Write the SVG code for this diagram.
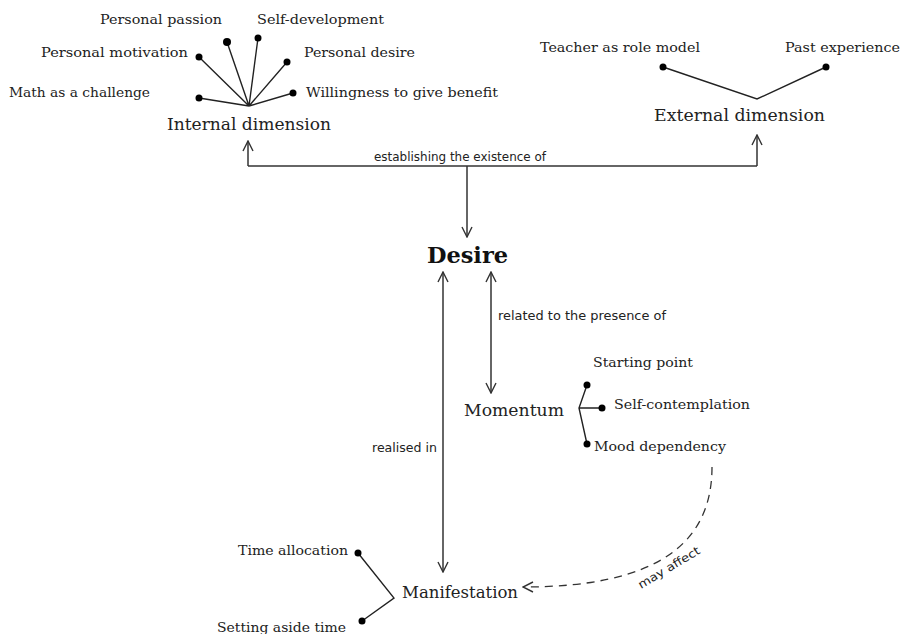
<svg xmlns="http://www.w3.org/2000/svg" width="901" height="634" viewBox="0 0 901 634">
  <style>
    .lbl { font-family: "DejaVu Serif", "Liberation Serif", serif; font-size: 13.5px; fill: #222; }
    .dim { font-family: "DejaVu Serif", "Liberation Serif", serif; font-size: 16.5px; fill: #222; }
    .main { font-family: "DejaVu Serif", "Liberation Serif", serif; font-size: 22px; font-weight: bold; fill: #111; }
    .rel { font-family: "DejaVu Sans", "Liberation Sans", sans-serif; font-size: 11.5px; fill: #222; }
    .branch { stroke: #222; stroke-width: 1.4; fill: none; }
    .dot { fill: #000; }
    .edge { stroke: #333; stroke-width: 1.5; fill: none; }
    .dashed { stroke: #333; stroke-width: 1.3; fill: none; stroke-dasharray: 8 6; }
  </style>
  <defs>
    <marker id="arrow" viewBox="0 0 12 12" refX="11" refY="6" markerWidth="12" markerHeight="12" markerUnits="userSpaceOnUse" orient="auto-start-reverse">
      <path d="M1,1 L11,6 L1,11" fill="none" stroke="#333" stroke-width="1.4"/>
    </marker>
  </defs>
  <rect width="901" height="634" fill="#fff"/>

  <!-- Internal dimension with its six facets -->
  <g id="internal">
    <path class="branch" d="M249,106 L199,98 M249,106 L199,57 M249,106 L227,42 M249,106 L258,38 M249,106 L287,62 M249,106 L293,93"/>
    <circle class="dot" cx="199" cy="98" r="3.5"/>
    <circle class="dot" cx="199" cy="57" r="3.5"/>
    <circle class="dot" cx="227" cy="42" r="4"/>
    <circle class="dot" cx="258" cy="38" r="3.5"/>
    <circle class="dot" cx="287" cy="62" r="3.5"/>
    <circle class="dot" cx="293" cy="93" r="3.5"/>
    <text class="lbl" x="100" y="24" textLength="122" lengthAdjust="spacingAndGlyphs">Personal passion</text>
    <text class="lbl" x="257" y="24" textLength="127" lengthAdjust="spacingAndGlyphs">Self-development</text>
    <text class="lbl" x="41" y="57" textLength="147" lengthAdjust="spacingAndGlyphs">Personal motivation</text>
    <text class="lbl" x="304" y="57" textLength="111" lengthAdjust="spacingAndGlyphs">Personal desire</text>
    <text class="lbl" x="9" y="97" textLength="141" lengthAdjust="spacingAndGlyphs">Math as a challenge</text>
    <text class="lbl" x="306" y="97" textLength="192" lengthAdjust="spacingAndGlyphs">Willingness to give benefit</text>
    <text class="dim" x="167" y="130" textLength="164" lengthAdjust="spacingAndGlyphs">Internal dimension</text>
  </g>

  <!-- External dimension with its two facets -->
  <g id="external">
    <path class="branch" d="M663,67 L757,99 L826,67"/>
    <circle class="dot" cx="663" cy="67" r="3.5"/>
    <circle class="dot" cx="826" cy="67" r="3.5"/>
    <text class="lbl" x="540" y="52" textLength="160" lengthAdjust="spacingAndGlyphs">Teacher as role model</text>
    <text class="lbl" x="785" y="52" textLength="115" lengthAdjust="spacingAndGlyphs">Past experience</text>
    <text class="dim" x="654" y="121" textLength="171" lengthAdjust="spacingAndGlyphs">External dimension</text>
  </g>

  <!-- Central concept -->
  <g id="desire">
    <text class="main" x="427" y="263" textLength="81" lengthAdjust="spacingAndGlyphs">Desire</text>
  </g>

  <!-- Momentum with its three facets -->
  <g id="momentum">
    <text class="dim" x="464" y="416" textLength="100" lengthAdjust="spacingAndGlyphs">Momentum</text>
    <path class="branch" d="M587,385 L579,408 L587,444 M579,408 L602,408"/>
    <circle class="dot" cx="587" cy="385" r="3.5"/>
    <circle class="dot" cx="602" cy="408" r="3.5"/>
    <circle class="dot" cx="587" cy="444" r="3.5"/>
    <text class="lbl" x="593" y="367" textLength="100" lengthAdjust="spacingAndGlyphs">Starting point</text>
    <text class="lbl" x="614" y="409" textLength="136" lengthAdjust="spacingAndGlyphs">Self-contemplation</text>
    <text class="lbl" x="594" y="451" textLength="132" lengthAdjust="spacingAndGlyphs">Mood dependency</text>
  </g>

  <!-- Manifestation with its two facets -->
  <g id="manifestation">
    <text class="dim" x="402" y="598" textLength="116" lengthAdjust="spacingAndGlyphs">Manifestation</text>
    <path class="branch" d="M358,553 L394,598 L362,621"/>
    <circle class="dot" cx="358" cy="553" r="3.5"/>
    <circle class="dot" cx="362" cy="621" r="3.5"/>
    <text class="lbl" x="238" y="555" textLength="110" lengthAdjust="spacingAndGlyphs">Time allocation</text>
    <text class="lbl" x="217" y="632" textLength="129" lengthAdjust="spacingAndGlyphs">Setting aside time</text>
  </g>

  <!-- Relations between concepts -->
  <g id="connectors">
    <path class="edge" d="M248,166 L757,166"/>
    <path class="edge" d="M248,166 L248,141" marker-end="url(#arrow)"/>
    <path class="edge" d="M757,166 L757,135" marker-end="url(#arrow)"/>
    <path class="edge" d="M467,166 L467,237" marker-end="url(#arrow)"/>
    <text class="rel" x="374" y="161" textLength="172" lengthAdjust="spacingAndGlyphs">establishing the existence of</text>

    <path class="edge" d="M491,272 L491,393" marker-start="url(#arrow)" marker-end="url(#arrow)"/>
    <text class="rel" x="498" y="320" textLength="168" lengthAdjust="spacingAndGlyphs">related to the presence of</text>

    <path class="edge" d="M443,272 L443,572" marker-start="url(#arrow)" marker-end="url(#arrow)"/>
    <text class="rel" x="372" y="452" textLength="65" lengthAdjust="spacingAndGlyphs">realised in</text>

    <path class="dashed" d="M712,467 C712,545 655,587 523,587" marker-end="url(#arrow)"/>
    <text class="rel" transform="translate(641,589) rotate(-31)" textLength="70" lengthAdjust="spacingAndGlyphs">may affect</text>
  </g>
</svg>
